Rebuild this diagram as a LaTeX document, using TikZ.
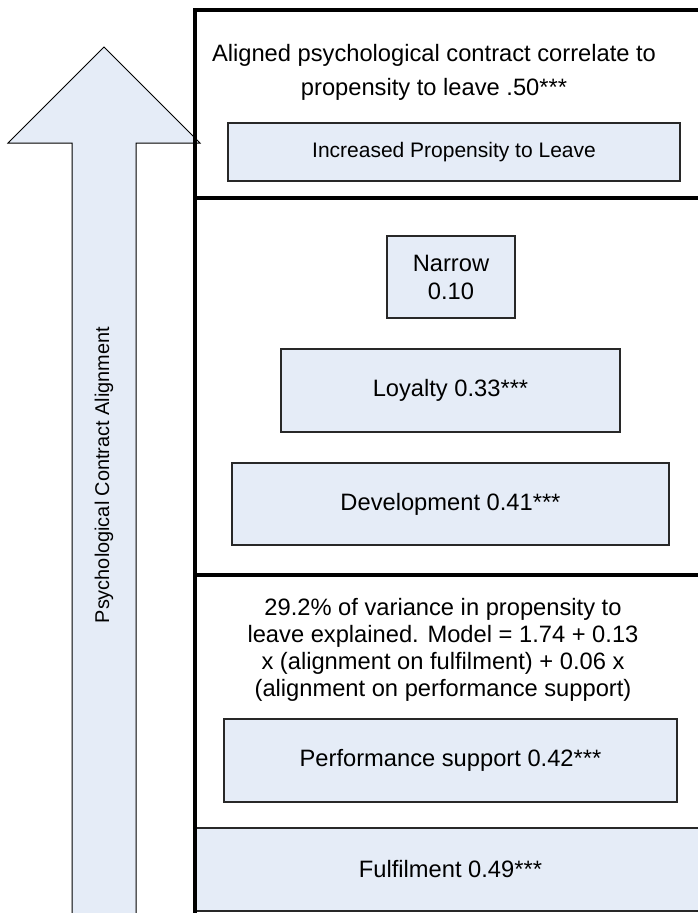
\documentclass[tikz,border=0pt]{standalone}
\usepackage{fontspec}
\setmainfont{Liberation Sans}
\definecolor{boxfill}{RGB}{229,236,247}
\definecolor{boxline}{RGB}{40,40,40}
\begin{document}
\begin{tikzpicture}[x=1pt,y=-1pt,
  bigtext/.style={font=\fontsize{23.7}{27}\selectfont, align=center, inner sep=0pt},
  valbox/.style={draw=boxline, line width=1.1pt, fill=boxfill, inner sep=0pt, align=center,
                 font=\fontsize{23.7}{28}\selectfont},
  frameline/.style={line width=4pt, line cap=rect}]
\useasboundingbox (0,0) rectangle (698,913);
\clip (0,0) rectangle (698,913);
% big arrow
\draw[fill=boxfill, line width=1pt] (72,920) -- (72,143) -- (8,143) -- (104,47) -- (200,143) -- (136,143) -- (136,920);
\node[rotate=90, font=\fontsize{19.9}{22}\selectfont, inner sep=0pt] (axis) at (104,475) {Psychological Contract Alignment};
% frame
\coordinate (ftl) at (195,10);
\coordinate (ftr) at (702,10);
\coordinate (fbl) at (195,920);
\coordinate (d1l) at (195,198);
\coordinate (d1r) at (702,198);
\coordinate (d2l) at (195,575);
\coordinate (d2r) at (702,575);
\draw[frameline] (ftr) -- (ftl) -- (fbl);
\draw[frameline] (d1l) -- (d1r);
\draw[frameline] (d2l) -- (d2r);
% top section
\node[bigtext, font=\fontsize{23.7}{34}\selectfont] (top) at (434,72) {Aligned psychological contract correlate to\\propensity to leave .50***};
\node[valbox, font=\fontsize{21}{24}\selectfont, minimum width=452pt, minimum height=58pt] (inc) at (454,152) {Increased Propensity to Leave};
% middle section
\node[valbox, minimum width=128pt, minimum height=82pt] (narrow) at (451,277) {Narrow\\0.10};
\node[valbox, minimum width=339pt, minimum height=83pt] (loyal) at (450.5,390.5) {Loyalty 0.33***};
\node[valbox, minimum width=437pt, minimum height=82pt] (dev) at (450.5,504) {Development 0.41***};
% bottom section
\node[bigtext] (model) at (443,649.5) {29.2\% of variance in propensity to\\leave explained. Model = 1.74 + 0.13\\x (alignment on fulfilment) + 0.06 x\\(alignment on performance support)};
\node[valbox, minimum width=453pt, minimum height=83pt] (perf) at (450.5,760.5) {Performance support 0.42***};
\node[valbox, minimum width=513pt, minimum height=83pt] (fulfil) at (450.5,869.5) {Fulfilment 0.49***};
\draw[frameline] (195,828) -- (fbl);
\end{tikzpicture}
\end{document}
